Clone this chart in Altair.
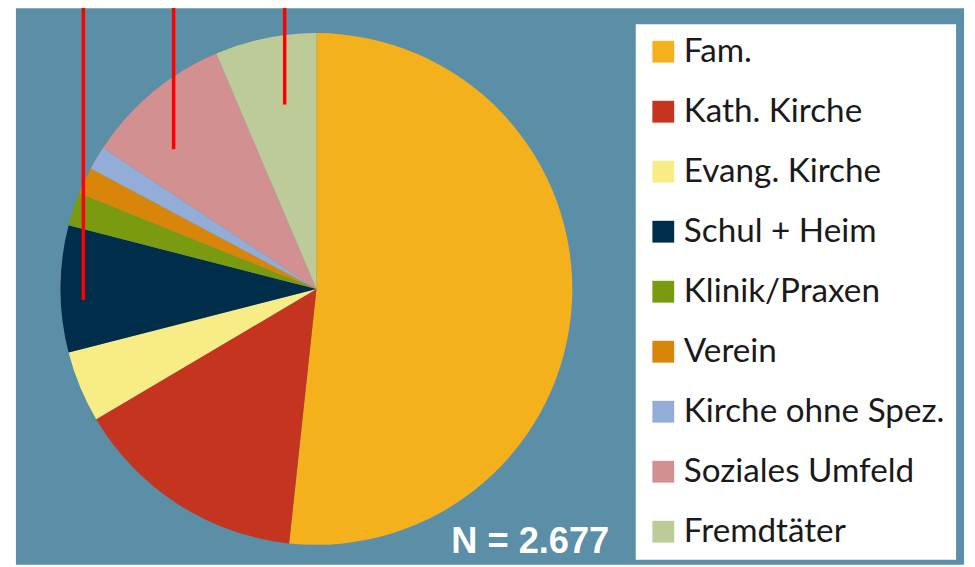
import altair as alt
import pandas as pd

categories = ["Fam.", "Kath. Kirche", "Evang. Kirche", "Schul + Heim", "Klinik/Praxen",
              "Verein", "Kirche ohne Spez.", "Soziales Umfeld", "Fremdtäter"]
values = [51.7, 14.8, 4.5, 8.0, 2.1, 1.7, 1.5, 9.3, 6.4]
colors = ["#f5b11b", "#c5341e", "#f7ec86", "#002d4a", "#7a9a10",
          "#d8860a", "#93acd8", "#d39090", "#bccb97"]

note_text = ["N = 2.677"]
marker_x = [76, 167, 279]
marker_y = [-8, -8, -8]
marker_y2 = [292, 140, 95]

df = pd.DataFrame({"cat": categories, "value": values, "idx": list(range(len(categories)))})

bg = alt.Chart(pd.DataFrame({"a": [0]})).mark_rect(color="#5b8ea7").encode(
    x=alt.value(8), x2=alt.value(964), y=alt.value(-2), y2=alt.value(559)
)

pie = alt.Chart(df).mark_arc(outerRadius=258).encode(
    theta=alt.Theta("value:Q", stack=True),
    order=alt.Order("idx:Q"),
    color=alt.Color(
        "cat:N",
        scale=alt.Scale(domain=categories, range=colors),
        sort=categories,
        legend=alt.Legend(
            title=None, orient="none", legendX=633, legendY=14,
            fillColor="white", padding=11, symbolType="square", symbolSize=484,
            symbolStrokeWidth=0, labelFont="Lato", labelFontSize=33.5,
            labelColor="#1a1a1a", labelOffset=4, rowPadding=25.5, labelLimit=400,
        ),
    ),
    x=alt.value(311),
    y=alt.value(281),
)

txt = alt.Chart(pd.DataFrame({"t": note_text})).mark_text(
    font="Liberation Sans", fontWeight="bold", fontSize=36.5, color="white",
    align="left", baseline="alphabetic"
).encode(text="t:N", x=alt.value(447), y=alt.value(547))

rules = alt.Chart(pd.DataFrame({"x": marker_x, "y": marker_y, "y2": marker_y2})).mark_rule(
    color="#ff0000", strokeWidth=3.5
).encode(
    x=alt.X("x:Q", scale=None, axis=None),
    y=alt.Y("y:Q", scale=None, axis=None),
    y2="y2:Q",
)

chart = alt.layer(bg, pie, txt, rules).properties(
    width=967, height=559, padding=0,
    autosize=alt.AutoSizeParams(type="none"),
    background="white",
).configure_view(stroke=None)

chart.save("out.html", embed_options={"renderer": "svg", "actions": False})
